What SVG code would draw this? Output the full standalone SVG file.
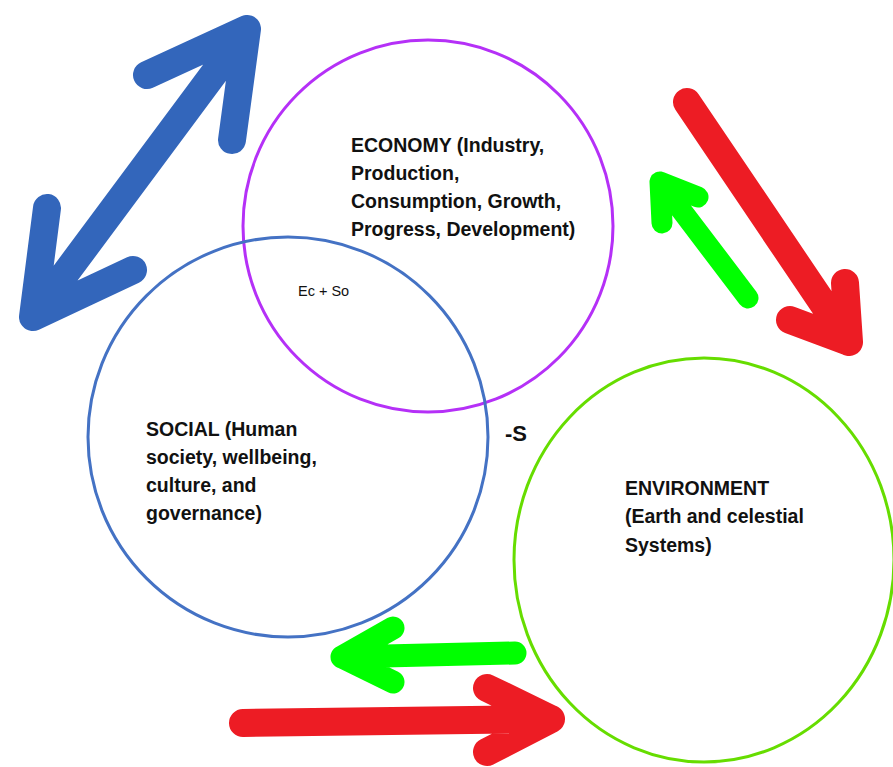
<svg xmlns="http://www.w3.org/2000/svg" width="893" height="767" viewBox="0 0 893 767">
<style>
.ring{fill:none;stroke-width:3}
.lbl{font-family:"Liberation Sans",Arial,sans-serif;font-weight:bold;font-size:19.5px;fill:#111}
.small{font-family:"Liberation Sans",Arial,sans-serif;font-size:14.5px;fill:#111}
.arr{fill:none;stroke-linecap:round;stroke-linejoin:round}
.blue{stroke:#3366BB;stroke-width:28}
.red{stroke:#ED1C24;stroke-width:28}
.green{stroke:#00FF00}
</style>
<rect width="893" height="767" fill="#fff"/>
<g id="economy">
<ellipse class="ring" cx="428" cy="226" rx="185" ry="186" stroke="#B530F7"/>
<text class="lbl" x="351" y="152">ECONOMY (Industry,</text>
<text class="lbl" x="351" y="180">Production,</text>
<text class="lbl" x="351" y="208">Consumption, Growth,</text>
<text class="lbl" x="351" y="236">Progress, Development)</text>
</g>
<g id="social">
<circle class="ring" cx="288" cy="437" r="200" stroke="#4472C4"/>
<text class="lbl" x="146" y="436">SOCIAL (Human</text>
<text class="lbl" x="146" y="464">society, wellbeing,</text>
<text class="lbl" x="146" y="492">culture, and</text>
<text class="lbl" x="146" y="520">governance)</text>
</g>
<g id="environment">
<ellipse class="ring" cx="704" cy="560" rx="190" ry="202" stroke="#66DD00"/>
<text class="lbl" x="625" y="495">ENVIRONMENT</text>
<text class="lbl" x="625" y="523">(Earth and celestial</text>
<text class="lbl" x="625" y="552">Systems)</text>
</g>
<g id="overlap-labels">
<text class="small" x="298" y="296">Ec + So</text>
<text class="lbl" x="505" y="441" style="font-size:22px">-S</text>
</g>
<g id="connectors">
<path class="arr blue" d="M33,317 L247,29 M147,75 L247,29 L232,140 M47,208 L33,317 L133,270"/>
<path class="arr red" d="M687,102 L849,342 M845,283 L849,342 L790,320"/>
<path class="arr green" stroke-width="21" d="M748,298 L660,182 M698,197 L660,182 L662,223"/>
<path class="arr green" stroke-width="23" d="M515,653 L342,657 M393,628 L342,657 L393,682"/>
<path class="arr red" stroke-width="27" d="M243,723 L551,719 M487,688 L551,719 L487,752"/>
</g>
</svg>
